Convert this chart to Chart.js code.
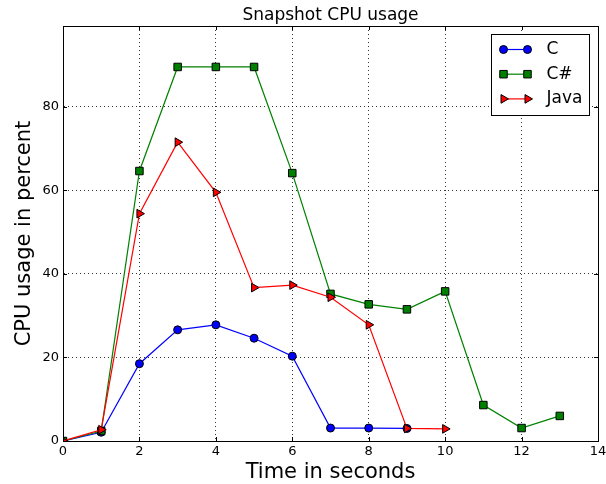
<!DOCTYPE html>
<html>
<head>
<meta charset="utf-8">
<script src="https://cdn.jsdelivr.net/npm/chart.js@4"></script>
<style>
html, body { margin: 0; padding: 0; background: #fff; }
</style>
</head>
<body>
<canvas id="cpuChart" width="606" height="484"></canvas>
<script>
const seconds = [0, 1, 2, 3, 4, 5, 6, 7, 8, 9, 10, 11, 12, 13];
const cUsage = [0, 2.1, 18.5, 26.6, 27.8, 24.6, 20.3, 3.1, 3.1, 3.0];
const csharpUsage = [0, 2.4, 64.6, 89.5, 89.5, 89.5, 64.1, 35.2, 32.7, 31.5, 35.8, 8.6, 3.1, 6.0];
const javaUsage = [0, 2.7, 54.4, 71.5, 59.5, 36.7, 37.3, 34.4, 27.8, 3.0, 2.9];
const xTicks = [0, 2, 4, 6, 8, 10, 12, 14];
const yTicks = [0, 20, 40, 60, 80];

const FONT = "'DejaVu Sans', sans-serif";

function toPoints(values) {
    return values.map((v, i) => ({ x: seconds[i], y: v }));
}

// box around the plot with small inward ticks on all four sides
const frame = {
    id: 'frame',
    afterDatasetsDraw(chart) {
        const ctx = chart.ctx;
        const a = chart.chartArea;
        const xs = chart.scales.x, ys = chart.scales.y;
        ctx.save();
        ctx.strokeStyle = '#000';
        ctx.lineWidth = 1;
        ctx.strokeRect(a.left + 0.5, a.top + 0.5, a.right - a.left, a.bottom - a.top);
        ctx.beginPath();
        xTicks.forEach(v => {
            const px = Math.round(xs.getPixelForValue(v)) + 0.5;
            ctx.moveTo(px, a.bottom); ctx.lineTo(px, a.bottom - 4);
            ctx.moveTo(px, a.top); ctx.lineTo(px, a.top + 4);
        });
        yTicks.forEach(v => {
            const py = Math.round(ys.getPixelForValue(v)) + 0.5;
            ctx.moveTo(a.left, py); ctx.lineTo(a.left + 4, py);
            ctx.moveTo(a.right, py); ctx.lineTo(a.right - 4, py);
        });
        ctx.stroke();
        ctx.restore();
    }
};

// matplotlib style legend: line sample with a marker at each end
const lineLegend = {
    id: 'lineLegend',
    afterDraw(chart) {
        const ctx = chart.ctx;
        const a = chart.chartArea;
        const bx = a.right - 106.5, by = a.top + 8.5, bw = 98, bh = 81;
        ctx.save();
        ctx.fillStyle = '#fff';
        ctx.fillRect(bx, by, bw, bh);
        ctx.strokeStyle = '#000';
        ctx.lineWidth = 1;
        ctx.strokeRect(bx, by, bw, bh);

        chart.data.datasets.forEach((ds, i) => {
            const y = by + 15 + i * 24.7;
            const x1 = bx + 12, x2 = bx + 36;
            ctx.strokeStyle = ds.borderColor;
            ctx.lineWidth = ds.borderWidth;
            ctx.beginPath();
            ctx.moveTo(x1, y); ctx.lineTo(x2, y);
            ctx.stroke();
            [x1, x2].forEach(px => {
                ctx.fillStyle = ds.pointBackgroundColor;
                ctx.strokeStyle = ds.pointBorderColor;
                ctx.lineWidth = ds.pointBorderWidth;
                Chart.helpers.drawPoint(ctx, {
                    pointStyle: ds.pointStyle,
                    radius: ds.pointRadius,
                    rotation: ds.pointRotation || 0,
                    borderWidth: ds.pointBorderWidth
                }, px, y);
            });
            ctx.fillStyle = '#000';
            ctx.font = '17px ' + FONT;
            ctx.textBaseline = 'middle';
            ctx.textAlign = 'left';
            ctx.fillText(ds.label, bx + 55, y);
        });
        ctx.restore();
    }
};

const ctx = document.getElementById('cpuChart').getContext('2d');
const cpuChart = new Chart(ctx, {
    type: 'line',
    data: {
        datasets: [{
            label: 'C',
            data: toPoints(cUsage),
            borderColor: '#0000ff',
            borderWidth: 1.2,
            pointStyle: 'circle',
            pointRadius: 4,
            pointBackgroundColor: '#0000ff',
            pointBorderColor: '#000',
            pointBorderWidth: 1,
            clip: 0,
            order: 3
        }, {
            label: 'C#',
            data: toPoints(csharpUsage),
            borderColor: '#008000',
            borderWidth: 1.2,
            pointStyle: 'rect',
            pointRadius: 5.3,
            pointBackgroundColor: '#008000',
            pointBorderColor: '#000',
            pointBorderWidth: 1,
            clip: 0,
            order: 2
        }, {
            label: 'Java',
            data: toPoints(javaUsage),
            borderColor: '#ff0000',
            borderWidth: 1.2,
            pointStyle: 'triangle',
            pointRotation: 90,
            pointRadius: 5,
            pointBackgroundColor: '#ff0000',
            pointBorderColor: '#000',
            pointBorderWidth: 1,
            clip: 0,
            order: 1
        }]
    },
    options: {
        responsive: false,
        animation: false,
        layout: { padding: { left: 0, right: 8, top: 0, bottom: 0 } },
        elements: { line: { tension: 0, fill: false } },
        plugins: {
            legend: { display: false },
            tooltip: { enabled: false },
            title: {
                display: true,
                text: 'Snapshot CPU usage',
                fullSize: false,
                color: '#000',
                font: { family: FONT, size: 17, weight: 'normal', lineHeight: 1.2 },
                padding: { top: 5, bottom: 0.6 }
            }
        },
        scales: {
            x: {
                type: 'linear',
                min: 0,
                max: 14,
                afterBuildTicks: s => { s.ticks = xTicks.map(v => ({ value: v })); },
                afterFit: s => { s.height = 43; s.paddingLeft = 0; s.paddingRight = 0; },
                ticks: { color: '#000', padding: 3, maxRotation: 0, font: { family: FONT, size: 13 } },
                grid: { color: '#000', lineWidth: 0.8, drawTicks: false },
                border: { color: '#000', width: 1, dash: [1, 3] },
                title: {
                    display: true,
                    text: 'Time in seconds',
                    color: '#000',
                    font: { family: FONT, size: 21, lineHeight: 1 },
                    padding: { top: 0, bottom: 1 }
                }
            },
            y: {
                min: 0,
                max: 99.3,
                afterBuildTicks: s => { s.ticks = yTicks.map(v => ({ value: v })); },
                afterFit: s => { s.width = 63; s.paddingTop = 0; s.paddingBottom = 0; },
                ticks: { color: '#000', padding: 4, font: { family: FONT, size: 13 } },
                grid: { color: '#000', lineWidth: 0.8, drawTicks: false },
                border: { color: '#000', width: 1, dash: [1, 3] },
                title: {
                    display: true,
                    text: 'CPU usage in percent',
                    color: '#000',
                    font: { family: FONT, size: 21, lineHeight: 1 },
                    padding: { top: 14, bottom: 0 }
                }
            }
        }
    },
    plugins: [frame, lineLegend]
});
</script>
</body>
</html>
